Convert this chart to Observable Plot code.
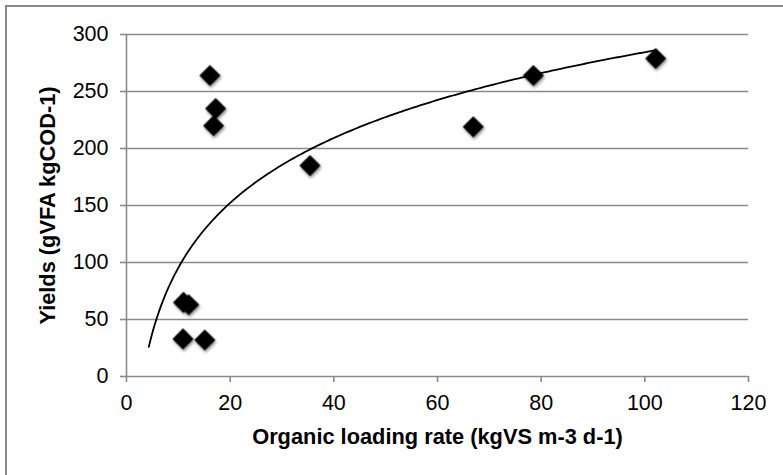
<!DOCTYPE html>
<html><head><meta charset="utf-8">
<script src="https://cdn.jsdelivr.net/npm/d3@7"></script>
<script src="https://cdn.jsdelivr.net/npm/@observablehq/plot@0.6"></script>
<style>
html,body{margin:0;padding:0;background:#fff;width:783px;height:475px;overflow:hidden}
#chart{position:relative;width:783px;height:475px;overflow:hidden}
#chart svg{display:block}
#frame{position:absolute;left:5px;top:5px;width:900px;height:700px;border:2px solid #8a8a8a;pointer-events:none}
</style>
</head><body><div id="chart"><div id="frame"></div></div>
<script>
// Data
const loadingRate = [10.9, 15.1, 11.0, 12.0, 16.1, 17.2, 16.8, 35.4, 66.9, 78.5, 102.1];
const yields      = [33,   32,   65,   63,   264,  235,  220,  185,  219,  264,  279];
const xTicks = [0, 20, 40, 60, 80, 100, 120];
const yTicks = [0, 50, 100, 150, 200, 250, 300];
const trendStart = [4.3]; // logarithmic trendline extended backward to this x
const xTitle = "Organic loading rate (kgVS m-3 d-1)";
const yTitle = "Yields (gVFA kgCOD-1)";

const points = loadingRate.map((x, i) => ({x, y: yields[i]}));

// Logarithmic least-squares fit y = a ln(x) + b (Excel-style trendline)
const lx = loadingRate.map(Math.log);
const mx = d3.mean(lx), my = d3.mean(yields);
const slope = d3.sum(lx, (v, i) => (v - mx) * (yields[i] - my)) / d3.sum(lx, v => (v - mx) ** 2);
const intercept = my - slope * mx;
const x0 = trendStart[0], x1 = d3.max(loadingRate);
const trend = d3.range(0, 201).map(i => {
  const x = x0 + (x1 - x0) * i / 200;
  return {x, y: intercept + slope * Math.log(x)};
});

const gray = "#8a8a8a";
const font = "'Liberation Sans', Arial, sans-serif";

const chart = Plot.plot({
  width: 783, height: 475,
  marginLeft: 126, marginRight: 35, marginTop: 34, marginBottom: 99,
  x: {domain: [0, 120]},
  y: {domain: [0, 300]},
  style: {fontFamily: font, fontSize: "21.5px", color: "#000", background: "transparent"},
  marks: [
    Plot.gridY(yTicks, {stroke: gray, strokeOpacity: 1, strokeWidth: 1.6}),
    Plot.ruleX([0], {stroke: gray, strokeWidth: 1.6}),
    Plot.axisY(yTicks, {tickSize: 6, tickPadding: 12, stroke: gray, strokeWidth: 1.6, fill: "#000", label: null, tickFormat: d => String(d)}),
    Plot.axisX(xTicks, {tickSize: 6, tickPadding: 12, stroke: gray, strokeWidth: 1.6, fill: "#000", label: null, tickFormat: d => String(d)}),
    Plot.line(trend, {x: "x", y: "y", stroke: "#000", strokeWidth: 1.8}),
    Plot.dot(points, {x: "x", y: "y", symbol: "diamond2", r: 9.5, fill: "#000", stroke: "none"}),
    Plot.text([xTitle], {frameAnchor: "bottom", dy: 61, text: d => d, fontWeight: "bold", fontSize: 21.8, textAnchor: "middle", lineAnchor: "middle", fill: "#000"}),
    Plot.text([yTitle], {frameAnchor: "left", dx: -78, rotate: -90, text: d => d, fontWeight: "bold", fontSize: 21.8, textAnchor: "middle", lineAnchor: "middle", fill: "#000"})
  ]
});

d3.select(chart).selectAll('g[aria-label="dot"]').style("filter", "drop-shadow(1px 2px 1.5px rgba(0,0,0,0.45))");

document.getElementById("chart").insertBefore(chart, document.getElementById("frame"));
</script>
</body></html>
